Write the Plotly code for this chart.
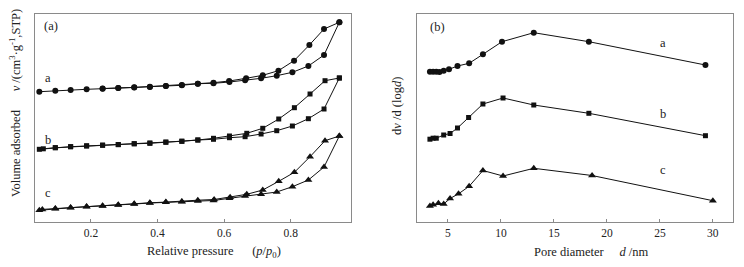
import plotly.graph_objects as go

# ---------------- data: panel (a) isotherms ----------------
p_ads = [0.045, 0.093, 0.139, 0.187, 0.235, 0.282, 0.330, 0.377, 0.425, 0.473,
         0.521, 0.568, 0.616, 0.663, 0.711, 0.758, 0.805, 0.853, 0.900, 0.946]
ads_a = [130.3, 131.3, 132.0, 132.7, 133.3, 134.0, 134.7, 135.3, 136.0, 136.7,
         138.3, 138.7, 140.0, 141.7, 143.7, 146.3, 149.7, 156.0, 167.0, 199.7]
ads_b = [72.7, 74.3, 75.3, 76.0, 76.7, 77.3, 78.3, 79.0, 80.0, 80.7,
         82.0, 82.7, 84.3, 85.3, 88.0, 91.3, 96.0, 103.3, 113.0, 144.0]
ads_c = [11.7, 13.3, 14.3, 15.3, 16.0, 17.0, 18.0, 19.0, 19.7, 20.3,
         21.0, 21.5, 23.7, 26.0, 27.7, 30.0, 35.3, 42.0, 55.0, 86.0]

p_des_a = [0.946, 0.900, 0.856, 0.810, 0.763, 0.716, 0.666, 0.615, 0.568, 0.521,
           0.473, 0.425, 0.377, 0.330, 0.282, 0.235]
des_a = [199.7, 193.0, 177.0, 161.3, 151.3, 146.7, 143.7, 141.0, 139.3, 138.3,
         137.0, 136.0, 135.0, 134.5, 134.0, 133.5]
p_des_b = [0.946, 0.903, 0.858, 0.811, 0.764, 0.716, 0.668, 0.616, 0.568, 0.521,
           0.473, 0.425, 0.377, 0.330, 0.282, 0.235, 0.187, 0.139, 0.093, 0.057]
des_b = [144.0, 141.3, 128.0, 114.3, 103.0, 93.7, 88.7, 86.0, 83.7, 82.0,
         80.8, 79.7, 78.7, 78.2, 77.5, 76.9, 76.2, 75.3, 74.3, 73.2]
p_des_c = [0.946, 0.903, 0.858, 0.811, 0.764, 0.716, 0.668, 0.618, 0.570, 0.521,
           0.473, 0.425, 0.377, 0.330, 0.282, 0.235, 0.187, 0.139, 0.093, 0.054]
des_c = [86.0, 81.3, 65.3, 49.7, 40.7, 32.0, 27.7, 24.7, 22.5, 21.8,
         20.6, 19.9, 19.2, 18.2, 17.2, 16.2, 15.5, 14.5, 13.5, 12.6]

# ---------------- data: panel (b) pore size distribution ----------------
d_a = [3.3, 3.6, 3.9, 4.2, 4.6, 5.1, 5.9, 7.0, 8.3, 10.1, 13.1, 18.3, 29.3]
psd_a = [150.3, 150.3, 150.3, 150.0, 151.3, 152.7, 156.0, 158.7, 167.7, 180.3, 189.3, 180.3, 157.0]
d_b = [3.3, 3.6, 3.9, 4.6, 5.2, 5.9, 6.95, 8.3, 10.2, 13.1, 18.3, 29.3]
psd_b = [82.8, 83.8, 83.8, 87.0, 88.5, 94.0, 104.5, 118.0, 124.0, 117.0, 108.7, 86.3]
d_c = [3.3, 3.6, 4.1, 4.6, 5.2, 6.0, 7.0, 8.3, 10.2, 13.1, 18.6, 30.0]
psd_c = [16.0, 17.3, 18.7, 18.0, 23.5, 28.2, 35.7, 51.5, 46.0, 53.7, 46.5, 21.3]

xticks_a = [0.2, 0.4, 0.6, 0.8]
xticks_b = [5, 10, 15, 20, 25, 30]
labels = ["a", "b", "c"]

# page has an 8px body margin; size the figure so it fits the 744x267 window
OFF = 8
W, H = 744 - 2 * OFF, 267 - 2 * OFF
FONT = "Liberation Serif, Times New Roman, serif"
INK = "#111111"
FRAME = "#8a8a8a"


def px(x):
    return (x - OFF) / W


def py(y):
    return 1 - (y - OFF) / H


fig = go.Figure()

sym = ["circle", "square", "triangle-up"]
msize = [6, 5, 7]


def add(x, y, xa, ya, i):
    fig.add_trace(go.Scatter(
        x=x, y=y, xaxis=xa, yaxis=ya, mode="lines+markers",
        line=dict(color=INK, width=1),
        marker=dict(symbol=sym[i], size=msize[i], color=INK),
        showlegend=False, hoverinfo="skip"))


for i, yy in enumerate([ads_a, ads_b, ads_c]):
    add(p_ads, yy, "x", "y", i)
for i, (xx, yy) in enumerate([(p_des_a, des_a), (p_des_b, des_b), (p_des_c, des_c)]):
    add(xx, yy, "x", "y", i)
for i, (xx, yy) in enumerate([(d_a, psd_a), (d_b, psd_b), (d_c, psd_c)]):
    add(xx, yy, "x2", "y2", i)

axis_common = dict(showline=True, linecolor=FRAME, linewidth=1, mirror=True,
                   showgrid=False, zeroline=False)
xfont = dict(family=FONT, size=11.5, color="#222")

fig.update_layout(
    width=W, height=H, margin=dict(l=0, r=0, t=0, b=0),
    paper_bgcolor="white", plot_bgcolor="white",
    font=dict(family=FONT, color="#222"),
    xaxis=dict(domain=[px(35), px(351)], range=[0.032, 0.981],
               tickvals=xticks_a, ticktext=[f"{v:.1f}" for v in xticks_a],
               ticks="inside", ticklen=3, tickcolor=FRAME, tickfont=xfont,
               anchor="y", **axis_common),
    yaxis=dict(domain=[py(222), py(14)], range=[0, 208], showticklabels=False,
               ticks="", anchor="x", **axis_common),
    xaxis2=dict(domain=[px(417), px(733)], range=[2.08, 31.9],
                tickvals=xticks_b, ticktext=[str(v) for v in xticks_b],
                ticks="inside", ticklen=3, tickcolor=FRAME, tickfont=xfont,
                anchor="y2", **axis_common),
    yaxis2=dict(domain=[py(222), py(14)], range=[0, 208], showticklabels=False,
                ticks="", anchor="x2", **axis_common),
)

ann = []
tf = dict(family=FONT, size=12.5, color="#222")
nb = "\u00a0"


def note(x, y, text, xref="paper", yref="paper", angle=0):
    ann.append(dict(x=x, y=y, xref=xref, yref=yref, text=text, textangle=angle,
                    xanchor="center", yanchor="middle", showarrow=False, font=tf))


# panel tags
note(px(51), py(26), "(a)")
note(px(437), py(27), "(b)")
# curve labels panel a
for lab, yv in zip(labels, [144.0, 82.5, 29.5]):
    note(0.071, yv, lab, "x", "y")
# curve labels panel b
for lab, yv in zip(labels, [179.3, 107.7, 52.0]):
    note(25.3, yv, lab, "x2", "y2")
# axis titles
note(px(213.5), py(251.5),
     "Relative pressure" + nb * 6 + "(<i>p</i>/<i>p</i><sub>0</sub>)")
note(px(590.5), py(251.5), "Pore diameter" + nb * 5 + "<i>d</i> /nm")
note(px(15), py(103),
     "Volume adsorbed" + nb * 6 + "<i>v</i> /(cm<sup>3</sup>·g<sup>-1</sup>,STP)",
     angle=-90)
note(px(397), py(106), "d<i>v</i> /d (log<i>d</i>)", angle=-90)
fig.update_layout(annotations=ann)

fig.write_html("out.html")
